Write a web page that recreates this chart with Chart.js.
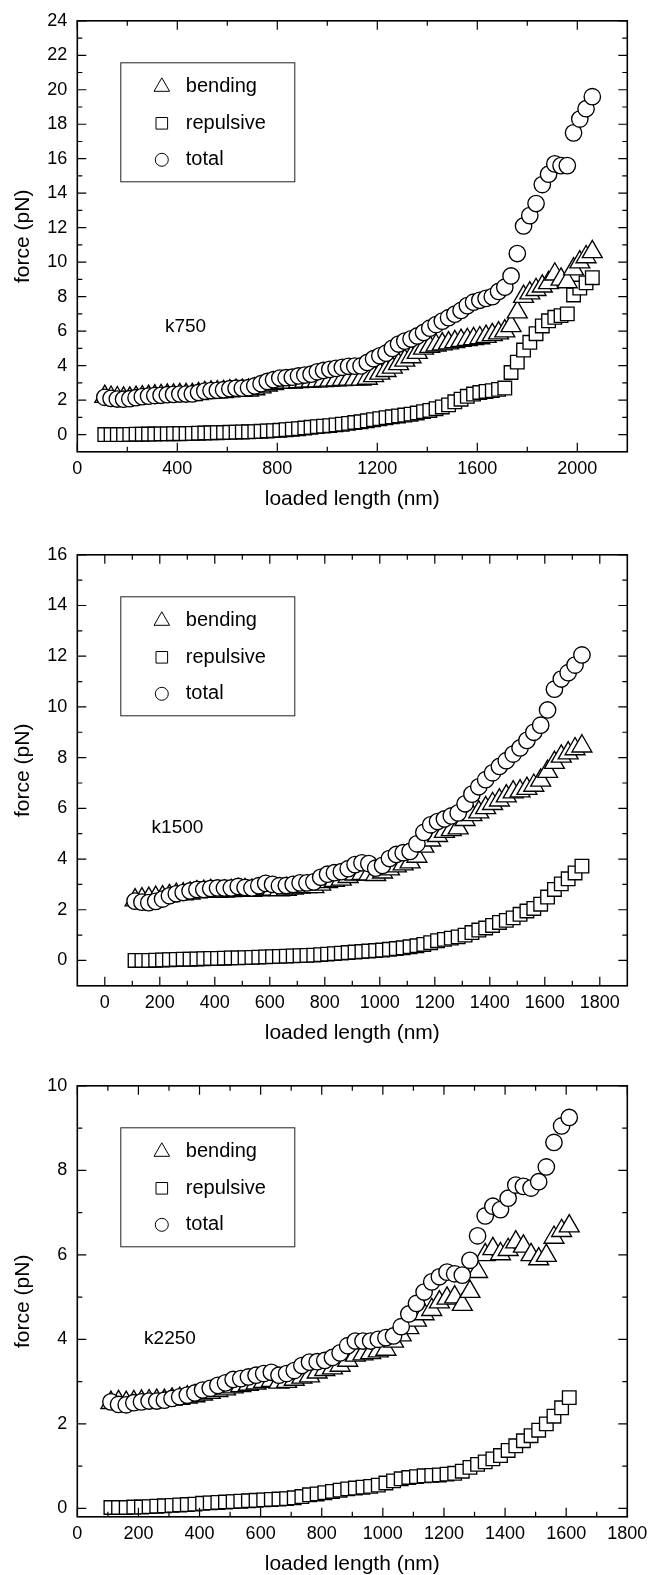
<!DOCTYPE html>
<html>
<head>
<meta charset="utf-8">
<title>force vs loaded length</title>
<script src="https://cdn.jsdelivr.net/npm/chart.js@4.4.1/dist/chart.umd.min.js"></script>
<style>
  html, body { margin: 0; padding: 0; background: #fff; overflow: hidden; }
  canvas { position: absolute; left: 0; }
</style>
</head>
<body>
<canvas id="chartK750" width="662" height="520" style="top:0px"></canvas>
<canvas id="chartK1500" width="662" height="520" style="top:534px"></canvas>
<canvas id="chartK2250" width="662" height="512" style="top:1065px"></canvas>
<script>
// ---- k750 ----
const k750Length = [110,135,160,185,210,235,260,285,310,335,
  360,385,410,435,460,485,510,535,560,585,
  610,635,660,685,710,735,760,785,810,835,
  860,885,910,935,960,985,1010,1035,1060,1085,
  1110,1135,1160,1185,1210,1235,1260,1285,1310,1335,
  1360,1385,1410,1435,1460,1485,1510,1535,1560,1585,
  1610,1635,1660,1685,1710,1735,1760,1785,1810,1835,
  1860,1885,1910,1935,1960,1985,2010,2035,2060];
const k750Bending = [2.2,2.15,2.12,2.1,2.1,2.14,2.18,2.2,2.23,2.25,
  2.27,2.28,2.3,2.3,2.3,2.36,2.42,2.45,2.46,2.48,
  2.52,2.55,2.55,2.56,2.64,2.75,2.86,2.95,3.02,3.03,
  3.03,3.06,3.08,3.09,3.1,3.12,3.14,3.16,3.18,3.2,
  3.2,3.2,3.25,3.4,3.55,3.7,3.9,4.1,4.3,4.5,
  4.75,5.0,5.1,5.18,5.25,5.3,5.38,5.45,5.5,5.55,
  5.6,5.68,5.78,5.88,6.0,6.3,7.1,8.0,8.2,8.4,
  8.6,8.8,9.3,9.0,8.85,9.6,10.0,10.3,10.6];
const k750Repulsive = [0,0,0,0,0.01,0.02,0.02,0.03,0.03,0.04,
  0.04,0.05,0.05,0.06,0.07,0.08,0.09,0.1,0.11,0.12,
  0.13,0.14,0.15,0.16,0.17,0.19,0.21,0.23,0.25,0.28,
  0.31,0.34,0.38,0.42,0.46,0.49,0.52,0.56,0.6,0.65,
  0.7,0.74,0.8,0.86,0.92,0.98,1.03,1.08,1.13,1.18,
  1.25,1.33,1.4,1.5,1.6,1.72,1.9,2.05,2.22,2.35,
  2.44,2.5,2.55,2.62,2.7,3.6,4.2,4.9,5.35,5.85,
  6.3,6.6,6.8,6.9,7.0,8.1,8.5,8.8,9.1];
const k750Total = [2.16,2.1,2.06,2.05,2.08,2.14,2.2,2.23,2.26,2.28,
  2.31,2.33,2.35,2.35,2.36,2.44,2.52,2.55,2.57,2.6,
  2.66,2.69,2.69,2.72,2.82,2.95,3.08,3.18,3.28,3.3,
  3.33,3.4,3.45,3.5,3.64,3.72,3.78,3.84,3.9,3.96,
  3.97,3.98,4.18,4.4,4.57,4.72,5.0,5.25,5.42,5.55,
  5.72,5.92,6.17,6.38,6.58,6.78,6.98,7.2,7.48,7.68,
  7.79,7.9,8.0,8.3,8.55,9.2,10.5,12.1,12.7,13.4,
  14.5,15.1,15.7,15.6,15.6,17.5,18.3,18.9,19.6];
const k750XTicks = [0,400,800,1200,1600,2000];
const k750XMinor = [200,600,1000,1400,1800];
const k750YTicks = [0,2,4,6,8,10,12,14,16,18,20,22,24];
const k750YMinor = [1,3,5,7,9,11,13,15,17,19,21,23];

// ---- k1500 ----
const k1500Length = [110,135,160,185,210,235,260,285,310,335,
  360,385,410,435,460,485,510,535,560,585,
  610,635,660,685,710,735,760,785,810,835,
  860,885,910,935,960,985,1010,1035,1060,1085,
  1110,1135,1160,1185,1210,1235,1260,1285,1310,1335,
  1360,1385,1410,1435,1460,1485,1510,1535,1560,1585,
  1610,1635,1660,1685,1710,1735];
const k1500Bending = [2.38,2.42,2.44,2.48,2.5,2.55,2.6,2.62,2.65,2.7,
  2.72,2.75,2.72,2.73,2.75,2.78,2.78,2.76,2.78,2.82,
  2.8,2.78,2.8,2.84,2.88,2.9,2.9,3.0,3.1,3.15,
  3.2,3.3,3.4,3.42,3.4,3.38,3.48,3.6,3.72,3.8,
  3.88,4.1,4.5,4.74,4.92,5.08,5.15,5.22,5.55,5.74,
  5.85,6.02,6.18,6.32,6.48,6.64,6.68,6.78,6.9,7.1,
  7.45,7.8,8.05,8.18,8.34,8.45];
const k1500Repulsive = [0,0,0,0.01,0.02,0.03,0.04,0.05,0.05,0.06,
  0.07,0.08,0.08,0.09,0.1,0.1,0.11,0.12,0.13,0.14,
  0.15,0.16,0.17,0.18,0.19,0.2,0.21,0.23,0.25,0.27,
  0.29,0.31,0.33,0.35,0.37,0.39,0.41,0.44,0.47,0.5,
  0.54,0.58,0.63,0.7,0.78,0.83,0.88,0.93,1.0,1.1,
  1.2,1.28,1.38,1.5,1.58,1.68,1.82,1.95,2.05,2.22,
  2.5,2.8,3.02,3.22,3.45,3.72];
const k1500Total = [2.34,2.3,2.28,2.33,2.42,2.55,2.63,2.68,2.74,2.8,
  2.8,2.84,2.86,2.86,2.86,2.92,2.88,2.86,2.95,3.04,
  3.0,2.95,2.96,3.0,3.06,3.06,3.1,3.28,3.4,3.46,
  3.5,3.62,3.78,3.85,3.82,3.64,3.75,4.02,4.18,4.25,
  4.3,4.6,5.05,5.35,5.48,5.58,5.7,5.82,6.18,6.56,
  6.85,7.13,7.4,7.65,7.88,8.14,8.38,8.68,9.0,9.28,
  9.88,10.7,11.1,11.35,11.65,12.05];
const k1500XTicks = [0,200,400,600,800,1000,1200,1400,1600,1800];
const k1500XMinor = [100,300,500,700,900,1100,1300,1500,1700];
const k1500YTicks = [0,2,4,6,8,10,12,14,16];
const k1500YMinor = [1,3,5,7,9,11,13,15];

// ---- k2250 ----
const k2250Length = [110,135,160,185,210,235,260,285,310,335,
  360,385,410,435,460,485,510,535,560,585,
  610,635,660,685,710,735,760,785,810,835,
  860,885,910,935,960,985,1010,1035,1060,1085,
  1110,1135,1160,1185,1210,1235,1260,1285,1310,1335,
  1360,1385,1410,1435,1460,1485,1510,1535,1560,1585,
  1610];
const k2250Bending = [2.5,2.52,2.5,2.52,2.53,2.54,2.55,2.55,2.58,2.6,
  2.63,2.66,2.7,2.74,2.78,2.82,2.87,2.9,2.93,2.96,
  3.0,3.02,2.98,3.0,3.05,3.1,3.13,3.22,3.28,3.32,
  3.38,3.5,3.62,3.65,3.68,3.72,3.76,3.95,4.1,4.27,
  4.45,4.6,4.7,4.88,4.97,5.0,4.82,5.13,5.6,6.0,
  6.14,6.02,6.12,6.3,6.2,6.0,5.9,5.98,6.41,6.57,
  6.68];
const k2250Repulsive = [0.02,0.02,0.02,0.03,0.03,0.04,0.05,0.06,0.07,0.08,
  0.09,0.1,0.12,0.13,0.14,0.15,0.16,0.17,0.18,0.19,
  0.2,0.21,0.22,0.23,0.25,0.28,0.32,0.34,0.37,0.4,
  0.43,0.46,0.48,0.5,0.52,0.55,0.6,0.65,0.7,0.73,
  0.75,0.77,0.78,0.79,0.81,0.83,0.88,0.97,1.04,1.1,
  1.17,1.25,1.37,1.48,1.6,1.72,1.85,2.0,2.18,2.38,
  2.62];
const k2250Total = [2.52,2.46,2.45,2.5,2.52,2.54,2.54,2.56,2.6,2.64,
  2.68,2.73,2.8,2.84,2.91,2.97,3.05,3.07,3.11,3.15,
  3.19,3.22,3.15,3.19,3.26,3.38,3.46,3.47,3.5,3.57,
  3.68,3.85,3.96,3.96,3.96,4.0,4.04,4.08,4.3,4.6,
  4.85,5.12,5.36,5.48,5.59,5.55,5.52,5.87,6.45,6.92,
  7.15,7.07,7.34,7.65,7.62,7.58,7.73,8.08,8.66,9.05,
  9.25];
const k2250XTicks = [0,200,400,600,800,1000,1200,1400,1600,1800];
const k2250XMinor = [100,300,500,700,900,1100,1300,1500,1700];
const k2250YTicks = [0,2,4,6,8,10];
const k2250YMinor = [1,3,5,7,9];

const FONT = '"Liberation Sans", Arial, Helvetica, sans-serif';
Chart.defaults.font.family = FONT;
Chart.defaults.color = '#000';

function toPoints(xs, ys) {
  return xs.map((x, i) => ({ x: x, y: ys[i] }));
}

// draws the box round the plot, inward ticks on all four sides, the legend and the panel tag
const frameAndLegend = {
  id: 'frameAndLegend',
  afterDatasetsDraw(chart, args, opts) {
    const ctx = chart.ctx;
    const a = chart.chartArea;
    const sx = chart.scales.x, sy = chart.scales.y;
    ctx.save();
    ctx.strokeStyle = '#000';

    // ticks
    ctx.lineWidth = 1.2;
    ctx.beginPath();
    const xTick = (v, len) => {
      const p = sx.getPixelForValue(v);
      ctx.moveTo(p, a.bottom); ctx.lineTo(p, a.bottom - len);
      ctx.moveTo(p, a.top); ctx.lineTo(p, a.top + len);
    };
    const yTick = (v, len) => {
      const p = sy.getPixelForValue(v);
      ctx.moveTo(a.left, p); ctx.lineTo(a.left + len, p);
      ctx.moveTo(a.right, p); ctx.lineTo(a.right - len, p);
    };
    opts.xMajor.forEach(v => xTick(v, 9));
    opts.xMinor.forEach(v => xTick(v, 5));
    opts.yMajor.forEach(v => yTick(v, 9));
    opts.yMinor.forEach(v => yTick(v, 5));
    ctx.stroke();

    // frame
    ctx.lineWidth = 1.6;
    ctx.strokeRect(a.left, a.top, a.right - a.left, a.bottom - a.top);

    // legend
    const bx = a.left + 43.5, by = a.top + 42;
    ctx.lineWidth = 1;
    ctx.strokeStyle = '#222';
    ctx.strokeRect(bx, by, 174, 119);
    const rows = [
      { text: 'bending', style: 'triangle', r: 9, dy: 66 },
      { text: 'repulsive', style: 'rect', r: 8.2, dy: 102.5 },
      { text: 'total', style: 'circle', r: 6.5, dy: 139 }
    ];
    ctx.font = '20px ' + FONT;
    ctx.textBaseline = 'middle';
    ctx.textAlign = 'left';
    rows.forEach(row => {
      const y = a.top + row.dy;
      ctx.fillStyle = '#fff';
      ctx.strokeStyle = '#000';
      ctx.lineWidth = 1;
      Chart.helpers.drawPoint(ctx, { pointStyle: row.style, radius: row.r, borderWidth: 1, rotation: 0 }, a.left + 84.5, y);
      ctx.fillStyle = '#000';
      ctx.fillText(row.text, a.left + 108.5, y);
    });

    // panel tag
    ctx.font = '19px ' + FONT;
    ctx.textAlign = 'center';
    ctx.fillText(opts.tag, opts.tagX, opts.tagY);
    ctx.restore();
  }
};

function drawPanel(canvasId, setup) {
  const ctx = document.getElementById(canvasId).getContext('2d');
  const h = ctx.canvas.height;
  const pointCommon = {
    showLine: false,
    pointBackgroundColor: '#fff',
    pointBorderColor: '#000',
    pointBorderWidth: 1.35
  };
  new Chart(ctx, {
    type: 'scatter',
    data: {
      datasets: [
        Object.assign({ label: 'total', data: toPoints(setup.xs, setup.total), pointStyle: 'circle', pointRadius: 8.2, order: 0 }, pointCommon),
        Object.assign({ label: 'bending', data: toPoints(setup.xs, setup.bending), pointStyle: 'triangle', pointRadius: 11.5, order: 1 }, pointCommon),
        Object.assign({ label: 'repulsive', data: toPoints(setup.xs, setup.repulsive), pointStyle: 'rect', pointRadius: 9.6, order: 2 }, pointCommon)
      ]
    },
    options: {
      responsive: false,
      animation: false,
      events: [],
      layout: { padding: { top: 15.5, left: 0, right: 34.7, bottom: h - 15.5 - 436.3 - 60 } },
      scales: {
        x: {
          type: 'linear',
          min: setup.xMin,
          max: setup.xMax,
          afterBuildTicks: s => { s.ticks = setup.xTicks.map(v => ({ value: v })); },
          afterFit: s => { s.height = 60; },
          grid: { display: false, drawTicks: false },
          border: { display: false },
          ticks: { font: { size: 18 }, color: '#000', padding: 6, maxRotation: 0, autoSkip: false, callback: v => String(v) },
          title: { display: true, text: 'loaded length (nm)', font: { size: 21 }, color: '#000', padding: { top: 0, bottom: 0 } }
        },
        y: {
          type: 'linear',
          min: setup.yMin,
          max: setup.yMax,
          afterBuildTicks: s => { s.ticks = setup.yTicks.map(v => ({ value: v })); },
          afterFit: s => { s.width = 77.3; },
          grid: { display: false, drawTicks: false },
          border: { display: false },
          ticks: { font: { size: 18 }, color: '#000', padding: 10, autoSkip: false, callback: v => String(v) },
          title: { display: true, text: 'force (pN)', font: { size: 21 }, color: '#000', padding: { top: 10.7, bottom: 0 } }
        }
      },
      plugins: {
        legend: { display: false },
        tooltip: { enabled: false },
        frameAndLegend: {
          xMajor: setup.xTicks, xMinor: setup.xMinor,
          yMajor: setup.yTicks, yMinor: setup.yMinor,
          tag: setup.tag, tagX: setup.tagX, tagY: setup.tagY
        }
      }
    },
    plugins: [frameAndLegend]
  });
}

drawPanel('chartK750', {
  xs: k750Length, bending: k750Bending, repulsive: k750Repulsive, total: k750Total,
  xMin: 0, xMax: 2200, yMin: -1, yMax: 24,
  xTicks: k750XTicks, xMinor: k750XMinor, yTicks: k750YTicks, yMinor: k750YMinor,
  tag: 'k750', tagX: 185.5, tagY: 327
});
drawPanel('chartK1500', {
  xs: k1500Length, bending: k1500Bending, repulsive: k1500Repulsive, total: k1500Total,
  xMin: -100, xMax: 1900, yMin: -1, yMax: 16,
  xTicks: k1500XTicks, xMinor: k1500XMinor, yTicks: k1500YTicks, yMinor: k1500YMinor,
  tag: 'k1500', tagX: 177.5, tagY: 293.5
});
drawPanel('chartK2250', {
  xs: k2250Length, bending: k2250Bending, repulsive: k2250Repulsive, total: k2250Total,
  xMin: 0, xMax: 1800, yMin: -0.2, yMax: 10,
  xTicks: k2250XTicks, xMinor: k2250XMinor, yTicks: k2250YTicks, yMinor: k2250YMinor,
  tag: 'k2250', tagX: 170, tagY: 274
});
</script>
</body>
</html>
